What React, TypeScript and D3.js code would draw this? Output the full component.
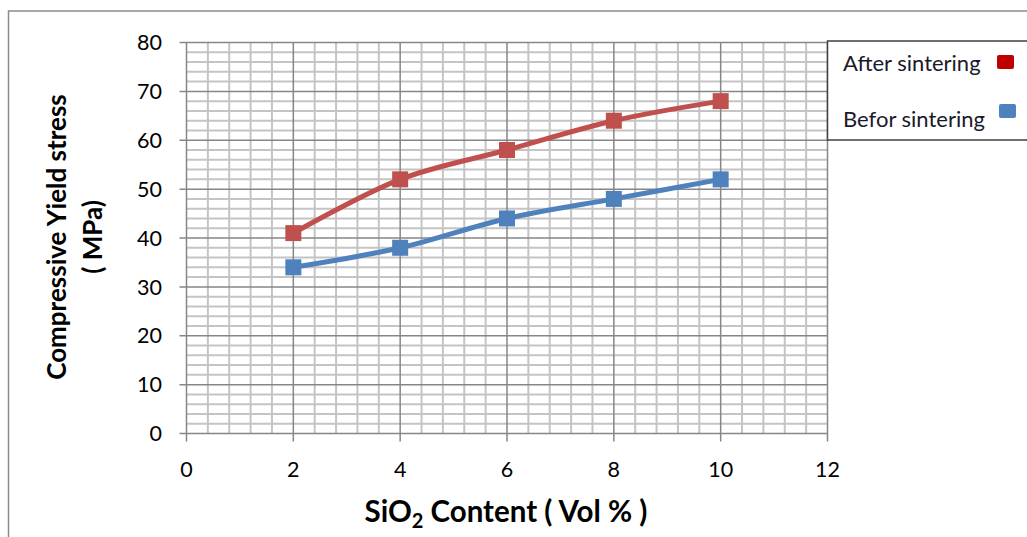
import React from "react";
import * as d3 from "d3";

const xValues = [2, 4, 6, 8, 10];
const afterSintering = [41, 52, 58, 64, 68];
const beforeSintering = [34, 38, 44, 48, 52];
const xTicks = [0, 2, 4, 6, 8, 10, 12];
const yTicks = [0, 10, 20, 30, 40, 50, 60, 70, 80];
const seriesNames = ["After sintering", "Befor sintering"];

const W = 1027;
const H = 537;
const FONT = "Lato, 'Open Sans', sans-serif";

export default function App() {
  const x = d3.scaleLinear().domain([0, 12]).range([186.5, 827.5]);
  const y = d3.scaleLinear().domain([0, 80]).range([433.5, 42.5]);

  const minorX = d3.range(0, 12.0001, 0.4).filter((v) => Math.abs(v / 2 - Math.round(v / 2)) > 1e-6);
  const minorY = d3.range(0, 80.0001, 2).filter((v) => v % 10 !== 0);

  const line = d3
    .line<number>()
    .x((_, i) => x(xValues[i]))
    .y((d) => y(d))
    .curve(d3.curveCatmullRom.alpha(0.5));

  const series = [
    { name: seriesNames[0], data: afterSintering, color: "#C0504D", legend: "#C00000" },
    { name: seriesNames[1], data: beforeSintering, color: "#4F81BD", legend: "#4F81BD" },
  ];

  return (
    <svg
      width={W}
      height={H}
      style={{ position: "absolute", left: 0, top: 0, background: "#fff" }}
      fontFamily={FONT}
    >
      <rect x={8.5} y={11} width={W} height={H} fill="#fff" stroke="#8c8c8c" strokeWidth={1.5} />
      {/* minor grid */}
      {minorX.map((v) => (
        <line key={"mx" + v} x1={x(v)} x2={x(v)} y1={y(80)} y2={y(0)} stroke="#c4c4c4" strokeWidth={2} />
      ))}
      {minorY.map((v) => (
        <line key={"my" + v} x1={x(0)} x2={x(12)} y1={y(v)} y2={y(v)} stroke="#c4c4c4" strokeWidth={2} />
      ))}
      {/* major grid */}
      {xTicks.map((v) => (
        <line key={"Mx" + v} x1={x(v)} x2={x(v)} y1={y(80)} y2={y(0) + 8} stroke="#868686" strokeWidth={1.5} />
      ))}
      {yTicks.map((v) => (
        <line key={"My" + v} x1={x(0) - 7} x2={x(12)} y1={y(v)} y2={y(v)} stroke="#868686" strokeWidth={1.5} />
      ))}
      {/* tick labels */}
      {yTicks.map((v) => (
        <text key={"yl" + v} x={162} y={y(v)} dy="0.36em" textAnchor="end" fontSize={21.5} fill="#000">
          {v}
        </text>
      ))}
      {xTicks.map((v) => (
        <text key={"xl" + v} x={x(v)} y={477} textAnchor="middle" fontSize={21.5} fill="#000">
          {v}
        </text>
      ))}
      {/* series */}
      {series.map((s) => (
        <g key={s.name}>
          <path d={line(s.data) || ""} fill="none" stroke={s.color} strokeWidth={5} />
          {s.data.map((d, i) => (
            <rect
              key={i}
              x={x(xValues[i]) - 8}
              y={y(d) - 8}
              width={16}
              height={16}
              fill={s.color}
            />
          ))}
        </g>
      ))}
      {/* axis titles */}
      <text x={506} y={522} textAnchor="middle" fontSize={29.5} fontWeight="bold" fill="#000">
        SiO
        <tspan fontSize={20} dy={6}>2</tspan>
        <tspan dy={-6}> Content ( Vol % )</tspan>
      </text>
      <g transform="translate(0,237) rotate(-90)">
        <text x={0} y={66} textAnchor="middle" fontSize={26} fontWeight="bold" fill="#000">
          Compressive Yield stress
        </text>
        <text x={0} y={102} textAnchor="middle" fontSize={26} fontWeight="bold" fill="#000">
          ( MPa)
        </text>
      </g>
      {/* legend */}
      <rect x={827.5} y={41} width={260} height={99} fill="#fff" stroke="#404040" strokeWidth={1.5} />
      <text x={843} y={71} fontSize={22} fill="#1a1a2a">{series[0].name}</text>
      <rect x={997} y={55} width={17} height={14} rx={2} fill={series[0].legend} />
      <text x={843} y={127} fontSize={22} fill="#1a1a2a">{series[1].name}</text>
      <rect x={999} y={104} width={17} height={14} rx={2} fill={series[1].legend} />
    </svg>
  );
}
